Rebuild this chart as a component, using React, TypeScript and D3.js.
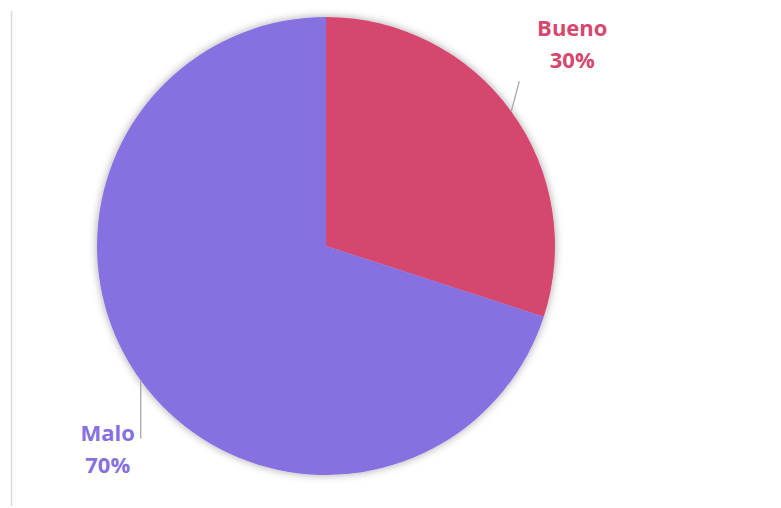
import React from "react";
import * as d3 from "d3";

const categories = ["Bueno", "Malo"];
const values = [30, 70];
const colors = ["#d6476f", "#8771e0"];

const W = 781;
const H = 508;
const cx = 326;
const cy = 246;
const R = 229;

export default function App() {
  const pie = d3.pie<number>().sort(null).value((d) => d)(values);
  const arc = d3.arc<d3.PieArcDatum<number>>().innerRadius(0).outerRadius(R);
  const total = d3.sum(values);
  const fmt = d3.format(".0%");

  // label layout offsets relative to the arc-edge point of each slice
  const labelCfg = [
    { lineEnd: [8, -30], text: [61, -75], anchor: "middle" },
    { lineEnd: [0, 58], text: [-33, 60], anchor: "middle" },
  ];

  return (
    <svg
      width={W}
      height={H}
      style={{ position: "absolute", left: 0, top: 0 }}
      fontFamily="'Open Sans', 'Liberation Sans', sans-serif"
    >
      <defs>
        <filter id="sh" x="-20%" y="-20%" width="140%" height="140%">
          <feDropShadow dx="0" dy="0" stdDeviation="4" floodColor="#000" floodOpacity="0.35" />
        </filter>
      </defs>
      <rect width={W} height={H} fill="#fff" />
      <line x1={11.5} x2={11.5} y1={11} y2={506} stroke="#d9d9d9" strokeWidth={1.5} />
      <g transform={`translate(${cx},${cy})`}>
        <g filter="url(#sh)">
          {pie.map((p, i) => (
            <path key={categories[i]} d={arc(p) || ""} fill={colors[i]} />
          ))}
        </g>
        {pie.map((p, i) => {
          const mid = (p.startAngle + p.endAngle) / 2;
          const ex = R * Math.sin(mid);
          const ey = -R * Math.cos(mid);
          const c = labelCfg[i];
          return (
            <g key={"l" + i}>
              <line
                x1={ex}
                y1={ey}
                x2={ex + c.lineEnd[0]}
                y2={ey + c.lineEnd[1]}
                stroke="#a6a6a6"
                strokeWidth={1.3}
              />
              <text
                x={ex + c.text[0]}
                y={ey + c.text[1]}
                textAnchor={c.anchor as any}
                fill={colors[i]}
                fontWeight="bold"
                fontSize={22}
              >
                <tspan x={ex + c.text[0]}>{categories[i]}</tspan>
                <tspan x={ex + c.text[0]} dy={32}>
                  {fmt(p.value / total)}
                </tspan>
              </text>
            </g>
          );
        })}
      </g>
    </svg>
  );
}
